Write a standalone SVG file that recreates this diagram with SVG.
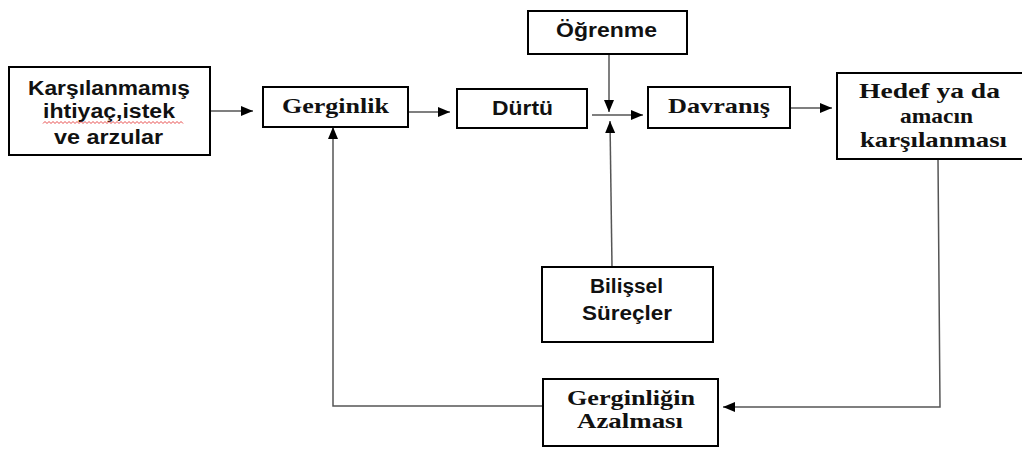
<svg xmlns="http://www.w3.org/2000/svg" width="1022" height="449" viewBox="0 0 1022 449">
<defs>
<marker id="ah" markerWidth="12" markerHeight="12" viewBox="0 0 12 12" refX="12" refY="6" orient="auto" markerUnits="userSpaceOnUse"><path d="M0,1 L12,6 L0,11 z" fill="#000"/></marker>
<style>
.box{fill:#fff;stroke:#000;stroke-width:2}
.sans{font-family:"Liberation Sans",Arial,sans-serif;font-weight:bold;font-size:19.5px;fill:#111}
.serif{font-family:"Liberation Serif","Times New Roman",serif;font-weight:bold;font-size:21px;fill:#111}
.con{fill:none;stroke:#555;stroke-width:1.5}
.arr{marker-end:url(#ah)}
</style>
</defs>
<rect width="1022" height="449" fill="#fff"/>
<g id="connectors">
<line class="con arr" x1="210" y1="111" x2="253" y2="111"/>
<line class="con arr" x1="408" y1="112" x2="450" y2="112"/>
<line class="con arr" x1="592" y1="115" x2="643" y2="115"/>
<line class="con arr" x1="609" y1="54" x2="609" y2="112"/>
<line class="con arr" x1="612" y1="267" x2="610" y2="121"/>
<line class="con arr" x1="790" y1="108" x2="832" y2="108"/>
<polyline class="con arr" points="938,159 940,407 723,407"/>
<polyline class="con arr" points="543,406 333,406 333,127"/>
</g>
<g id="karsilanmamis">
<rect class="box" x="9" y="67" width="201" height="88"/>
<text class="sans" x="28" y="95" textLength="162" lengthAdjust="spacingAndGlyphs">Karşılanmamış</text>
<text class="sans" x="43" y="118" textLength="132" lengthAdjust="spacingAndGlyphs">ihtiyaç,istek</text>
<path d="M43,123.5 l2,-2 l2,2 l2,-2 l2,2 l2,-2 l2,2 l2,-2 l2,2 l2,-2 l2,2 l2,-2 l2,2 l2,-2 l2,2 l2,-2 l2,2 l2,-2 l2,2 l2,-2 l2,2 l2,-2 l2,2 l2,-2 l2,2 l2,-2 l2,2 l2,-2 l2,2 l2,-2 l2,2 l2,-2 l2,2 l2,-2 l2,2 l2,-2 l2,2 l2,-2 l2,2 l2,-2 l2,2 l2,-2 l2,2 l2,-2 l2,2 l2,-2 l2,2 l2,-2 l2,2 l2,-2 l2,2 l2,-2 l2,2 l2,-2 l2,2 l2,-2 l2,2 l2,-2 l2,2 l2,-2 l2,2 l2,-2 l2,2 l2,-2 l2,2 l2,-2 l2,2 l2,-2 l2,2 l2,-2 l2,2" fill="none" stroke="#e02020" stroke-width="0.8"/>
<text class="sans" x="54" y="144" textLength="109" lengthAdjust="spacingAndGlyphs">ve arzular</text>
</g>
<g id="gerginlik">
<rect class="box" x="263" y="87" width="145" height="40"/>
<text class="serif" x="282" y="113" textLength="107" lengthAdjust="spacingAndGlyphs">Gerginlik</text>
</g>
<g id="durtu">
<rect class="box" x="457" y="89" width="130" height="39"/>
<text class="sans" x="492" y="115" textLength="61" lengthAdjust="spacingAndGlyphs">Dürtü</text>
</g>
<g id="ogrenme">
<rect class="box" x="528" y="11" width="159" height="43"/>
<text class="sans" x="556" y="37" textLength="101" lengthAdjust="spacingAndGlyphs">Öğrenme</text>
</g>
<g id="davranis">
<rect class="box" x="648" y="87" width="142" height="41"/>
<text class="serif" x="668" y="113" textLength="102" lengthAdjust="spacingAndGlyphs">Davranış</text>
</g>
<g id="hedef">
<rect class="box" x="837" y="73" width="187" height="86"/>
<text class="serif" x="859" y="98" textLength="141" lengthAdjust="spacingAndGlyphs">Hedef ya da</text>
<text class="serif" x="900" y="123" textLength="73" lengthAdjust="spacingAndGlyphs">amacın</text>
<text class="serif" x="860" y="147" textLength="147" lengthAdjust="spacingAndGlyphs">karşılanması</text>
</g>
<g id="bilissel">
<rect class="box" x="542" y="267" width="171" height="75"/>
<text class="sans" x="590" y="293" textLength="73" lengthAdjust="spacingAndGlyphs">Bilişsel</text>
<text class="sans" x="582" y="320" textLength="90" lengthAdjust="spacingAndGlyphs">Süreçler</text>
</g>
<g id="gerginligin">
<rect class="box" x="543" y="379" width="175" height="67"/>
<text class="serif" x="567" y="405" textLength="128" lengthAdjust="spacingAndGlyphs">Gerginliğin</text>
<text class="serif" x="577" y="428" textLength="106" lengthAdjust="spacingAndGlyphs">Azalması</text>
</g>
</svg>
